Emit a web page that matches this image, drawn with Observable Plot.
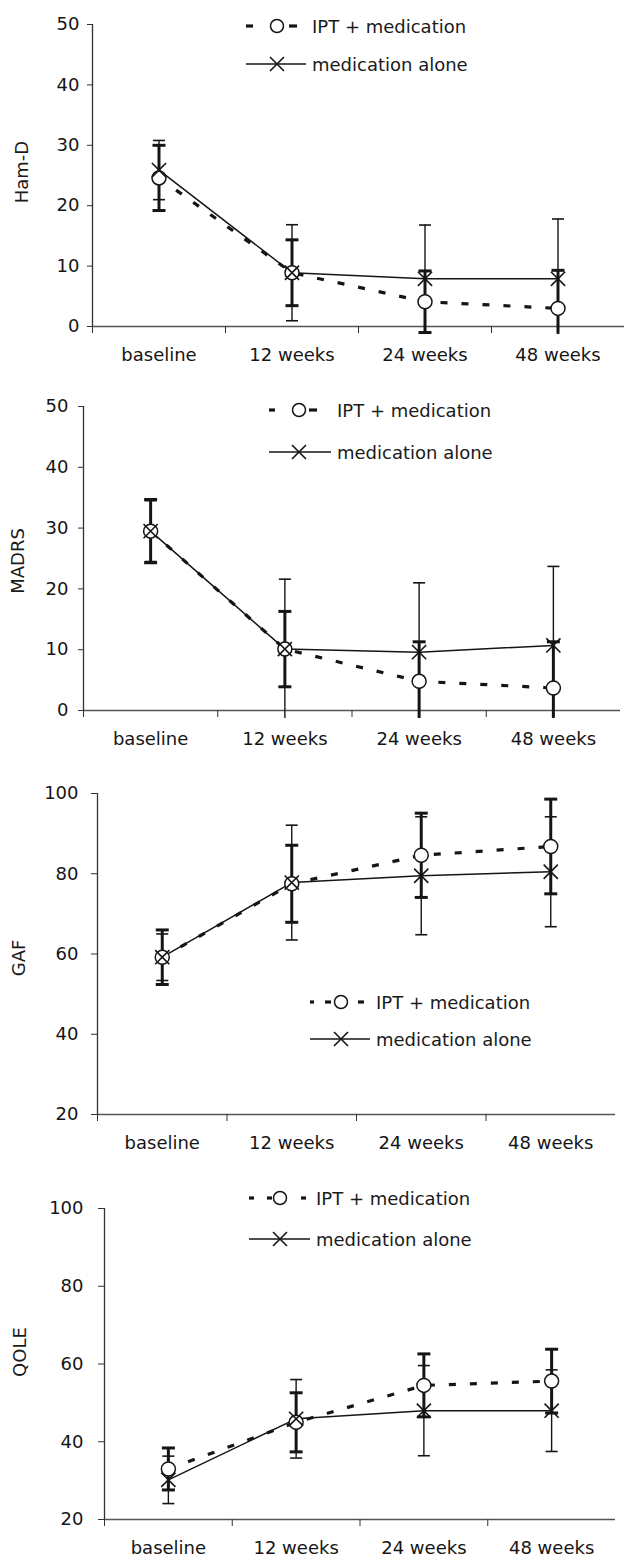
<!DOCTYPE html>
<html><head><meta charset="utf-8">
<script src="https://cdn.jsdelivr.net/npm/d3@7"></script>
<script src="https://cdn.jsdelivr.net/npm/@observablehq/plot@0.6"></script>
<style>
body{margin:0;background:#fff;}
#wrap{position:relative;width:624px;height:1568px;font-family:"DejaVu Sans",sans-serif;color:#1a1a1a;overflow:hidden;}
.panel{position:absolute;left:0;}
.ylab{position:absolute;font-size:18px;transform:translate(-50%,-50%) rotate(-90deg);white-space:nowrap;line-height:1;}
.leg{position:absolute;font-size:18px;display:flex;align-items:center;height:22px;white-space:nowrap;}
.leg svg{display:block;margin-right:6px;}
</style></head><body><div id="wrap"></div>
<script>
// ---- data ----
const categories = ["baseline", "12 weeks", "24 weeks", "48 weeks"];
const seriesNames = ["IPT + medication", "medication alone"];

const hamdIptMean = [24.6, 8.9, 4.1, 3.0];
const hamdIptSd   = [5.4, 5.45, 5.1, 6.3];
const hamdMedMean = [25.9, 8.9, 7.9, 7.9];
const hamdMedSd   = [4.9, 7.95, 8.9, 9.9];

const madrsIptMean = [29.5, 10.1, 4.8, 3.7];
const madrsIptSd   = [5.2, 6.2, 6.5, 7.6];
const madrsMedMean = [29.5, 10.1, 9.6, 10.7];
const madrsMedSd   = [5.0, 11.5, 11.4, 13.0];

const gafIptMean = [59.2, 77.5, 84.6, 86.8];
const gafIptSd   = [6.8, 9.6, 10.5, 11.8];
const gafMedMean = [59.2, 77.8, 79.5, 80.5];
const gafMedSd   = [5.8, 14.3, 14.7, 13.7];

const qoleIptMean = [33.0, 45.0, 54.5, 55.6];
const qoleIptSd   = [5.4, 7.6, 8.1, 8.2];
const qoleMedMean = [30.2, 45.9, 48.0, 48.0];
const qoleMedSd   = [6.1, 10.1, 11.6, 10.5];

const hamdTicks = [0, 10, 20, 30, 40, 50];
const madrsTicks = [0, 10, 20, 30, 40, 50];
const gafTicks = [20, 40, 60, 80, 100];
const qoleTicks = [20, 40, 60, 80, 100];

// ---- panel layout ----
const panels = [
  {label: "Ham-D", ipt: [hamdIptMean, hamdIptSd], med: [hamdMedMean, hamdMedSd], ticks: hamdTicks, domain: [0, 50], floor: -1.3,
   top: 0, height: 380, mt: 24, mb: 54, ml: 92, mr: 0, tickSize: 5, tickPad: 8,
   ylab: [22, 172], legend: {x: 246, len: 60, rows: [26, 64], dashes: [[0, 7], [43, 51]], mid: 31}},
  {label: "MADRS", ipt: [madrsIptMean, madrsIptSd], med: [madrsMedMean, madrsMedSd], ticks: madrsTicks, domain: [0, 50], floor: -1.3,
   top: 380, height: 380, mt: 26, mb: 50, ml: 83, mr: 4, tickSize: 5, tickPad: 10,
   ylab: [18, 561], legend: {x: 269, len: 62, rows: [410, 452], dashes: [[0, 6], [40, 48]], mid: 30}},
  {label: "GAF", ipt: [gafIptMean, gafIptSd], med: [gafMedMean, gafMedSd], ticks: gafTicks, domain: [20, 100], floor: 20,
   top: 760, height: 400, mt: 33, mb: 46, ml: 97, mr: 9, tickSize: 6, tickPad: 13,
   ylab: [19, 958], legend: {x: 310, len: 60, rows: [1002, 1039], dashes: [[0, 4], [15, 21], [48, 54]], mid: 31}},
  {label: "QOLE", ipt: [qoleIptMean, qoleIptSd], med: [qoleMedMean, qoleMedSd], ticks: qoleTicks, domain: [20, 100], floor: 20,
   top: 1160, height: 408, mt: 48, mb: 49, ml: 104, mr: 9, tickSize: 6, tickPad: 15,
   ylab: [20, 1352], legend: {x: 249, len: 61, rows: [1198, 1239], dashes: [[0, 5], [18, 23], [52, 57]], mid: 31}}
];

const INK = "#151515";
const capSymbol = {draw(ctx, size) { const w = Math.sqrt(size / Math.PI); ctx.moveTo(-w, 0); ctx.lineTo(w, 0); }};

function rows(mean, sd, floor) {
  return categories.map((c, i) => {
    const lo = mean[i] - sd[i], hi = mean[i] + sd[i];
    return {cat: c, x: i + 0.5, mean: mean[i], lo: Math.max(lo, floor), hi, capLo: lo >= floor};
  });
}

const wrap = document.getElementById("wrap");

for (const p of panels) {
  const ipt = rows(p.ipt[0], p.ipt[1], p.floor);
  const med = rows(p.med[0], p.med[1], p.floor);
  const chart = Plot.plot({
    width: 624, height: p.height,
    marginTop: p.mt, marginBottom: p.mb, marginLeft: p.ml, marginRight: p.mr,
    style: {fontFamily: "DejaVu Sans, sans-serif", fontSize: "18px", color: INK, background: "white", overflow: "visible"},
    x: {domain: [0, categories.length], axis: null},
    y: {domain: p.domain, axis: null},
    marks: [
      // axis lines
      Plot.ruleY([p.domain[0]], {stroke: "#555", strokeWidth: 1.3}),
      Plot.ruleX([0], {y1: p.domain[0], y2: p.domain[1], stroke: "#333", strokeWidth: 1.3}),
      Plot.axisY({ticks: p.ticks, tickSize: p.tickSize, tickPadding: p.tickPad, stroke: "#333", label: null, fontSize: 18}),
      Plot.axisX({ticks: d3.range(categories.length), tickSize: 7, tickFormat: () => "", stroke: "#333", label: null}),
      Plot.axisX({ticks: categories.map((c, i) => i + 0.5), tickSize: 0, tickPadding: 22,
                  tickFormat: d => categories[Math.round(d - 0.5)], label: null, fontSize: 18}),
      // lines
      Plot.line(med, {x: "x", y: "mean", stroke: INK, strokeWidth: 1.5}),
      Plot.line(ipt, {x: "x", y: "mean", stroke: INK, strokeWidth: 3.2, strokeDasharray: "7,14", strokeLinecap: "butt"}),
      // error bars: medication alone (thin)
      Plot.ruleX(med, {x: "x", y1: "lo", y2: "hi", stroke: INK, strokeWidth: 1.4}),
      Plot.dot(med, {x: "x", y: "hi", symbol: capSymbol, r: 6, fill: "none", stroke: INK, strokeWidth: 1.6}),
      Plot.dot(med.filter(d => d.capLo), {x: "x", y: "lo", symbol: capSymbol, r: 6, fill: "none", stroke: INK, strokeWidth: 1.6}),
      // error bars: IPT + medication (thick)
      Plot.ruleX(ipt, {x: "x", y1: "lo", y2: "hi", stroke: INK, strokeWidth: 3}),
      Plot.dot(ipt, {x: "x", y: "hi", symbol: capSymbol, r: 6.5, fill: "none", stroke: INK, strokeWidth: 3}),
      Plot.dot(ipt.filter(d => d.capLo), {x: "x", y: "lo", symbol: capSymbol, r: 6.5, fill: "none", stroke: INK, strokeWidth: 3}),
      // markers
      Plot.dot(ipt, {x: "x", y: "mean", symbol: "circle", r: 7, fill: "white", stroke: INK, strokeWidth: 1.5}),
      Plot.dot(med, {x: "x", y: "mean", symbol: "times", r: 6.5, fill: "none", stroke: INK, strokeWidth: 1.6})
    ]
  });
  chart.classList.add("panel");
  chart.style.top = p.top + "px";
  wrap.appendChild(chart);

  // y-axis title
  const yl = document.createElement("div");
  yl.className = "ylab";
  yl.textContent = p.label;
  yl.style.left = p.ylab[0] + "px";
  yl.style.top = p.ylab[1] + "px";
  wrap.appendChild(yl);

  // legend
  seriesNames.forEach((name, k) => {
    const L = p.legend, len = L.len, mid = L.mid;
    const row = document.createElement("div");
    row.className = "leg";
    row.style.left = L.x + "px";
    row.style.top = (L.rows[k] - 11) + "px";
    const ns = "http://www.w3.org/2000/svg";
    const s = document.createElementNS(ns, "svg");
    s.setAttribute("width", len); s.setAttribute("height", 22);
    if (k === 0) {
      for (const [a, b] of L.dashes) {
        const l = document.createElementNS(ns, "line");
        l.setAttribute("x1", a); l.setAttribute("x2", b); l.setAttribute("y1", 11); l.setAttribute("y2", 11);
        l.setAttribute("stroke", INK); l.setAttribute("stroke-width", 3.2);
        s.appendChild(l);
      }
      const c = document.createElementNS(ns, "circle");
      c.setAttribute("cx", mid); c.setAttribute("cy", 11); c.setAttribute("r", 6.5);
      c.setAttribute("fill", "white"); c.setAttribute("stroke", INK); c.setAttribute("stroke-width", 1.5);
      s.appendChild(c);
    } else {
      const l = document.createElementNS(ns, "line");
      l.setAttribute("x1", 0); l.setAttribute("x2", len); l.setAttribute("y1", 11); l.setAttribute("y2", 11);
      l.setAttribute("stroke", INK); l.setAttribute("stroke-width", 1.5);
      s.appendChild(l);
      const pth = document.createElementNS(ns, "path");
      pth.setAttribute("d", `M${mid-7},4L${mid+7},18M${mid-7},18L${mid+7},4`);
      pth.setAttribute("stroke", INK); pth.setAttribute("stroke-width", 1.6); pth.setAttribute("fill", "none");
      s.appendChild(pth);
    }
    row.appendChild(s);
    const t = document.createElement("span");
    t.textContent = name;
    row.appendChild(t);
    wrap.appendChild(row);
  });
}
</script></body></html>
